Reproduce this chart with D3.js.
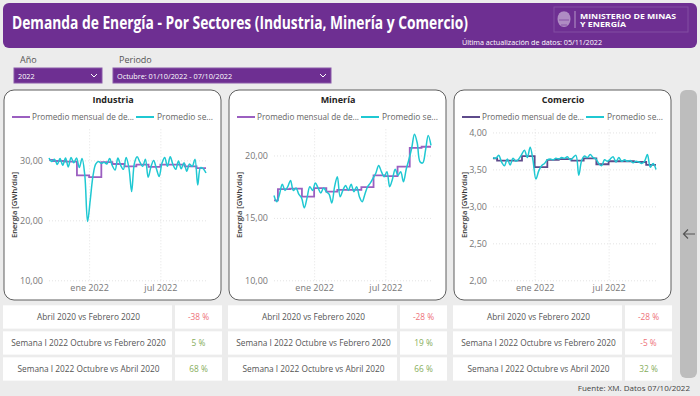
<!DOCTYPE html>
<html>
<head>
<meta charset="utf-8">
<script src="https://cdn.jsdelivr.net/npm/d3@7"></script>
<style>
  body { margin: 0; background: #ececec; }
  svg { display: block; font-family: "Open Sans", "Noto Sans", sans-serif; }
</style>
</head>
<body>
<svg id="chart" width="700" height="396"></svg>
<script>
// ---- datos ----
const sectores = ["Industria", "Minería", "Comercio"];

// inicio de cada serie semanal y de cada mes (el primero recortado al inicio de los datos)
const semanaInicio = "2021-09-21";
const meses = ["2021-09-21", "2021-10-01", "2021-11-01", "2021-12-01", "2022-01-01", "2022-02-01",
  "2022-03-01", "2022-04-01", "2022-05-01", "2022-06-01", "2022-07-01", "2022-08-01",
  "2022-09-01", "2022-10-01"];

const mensualIndustria = [30.1, 29.9, 29.8, 27.5, 27.2, 29.7, 29.4, 29.0, 29.3, 28.9, 29.3, 29.3, 29.0, 28.7];
const mensualMineria = [16.4, 17.3, 17.35, 16.7, 17.38, 17.1, 17.25, 17.25, 17.47, 18.4, 18.35, 19.1, 20.6, 20.7];
const mensualComercio = [3.65, 3.62, 3.62, 3.68, 3.53, 3.63, 3.64, 3.62, 3.65, 3.57, 3.61, 3.61, 3.60, 3.56];

const semanalIndustria = [30.4, 29.8, 30.2, 29.3, 30.3, 29.2, 30.4, 28.9, 30.5, 29.6,
  30.4, 28.8, 30.3, 27.5, 19.8, 23.5, 27.5, 29.4, 29.8, 29.5,
  29.7, 29.4, 30.3, 29.1, 28.4, 30.4, 29.2, 28.5, 30.5, 28.8,
  24.8, 29.5, 30.6, 29.7, 29.0, 30.2, 27.2, 28.9, 30.0, 28.6,
  27.3, 29.5, 30.5, 29.0, 30.6, 29.3, 28.5, 29.9, 28.6, 29.6,
  28.2, 29.4, 29.0, 30.2, 25.9, 28.8, 28.6, 27.9];
const semanalMineria = [16.8, 16.3, 16.9, 17.7, 17.2, 17.5, 18.0, 17.2, 17.4, 16.9,
  16.6, 15.8, 16.6, 17.5, 17.2, 17.8, 17.4, 17.0, 17.4, 17.1,
  16.9, 16.2, 17.5, 18.3, 16.7, 17.2, 17.6, 17.2, 17.7, 17.1,
  17.5, 16.7, 16.3, 16.9, 17.5, 17.8, 18.2, 18.6, 19.2, 18.7,
  18.3, 18.7, 17.5, 18.1, 18.9, 18.4, 18.7, 17.9, 18.9, 19.7,
  20.6, 21.7, 21.0, 19.5, 19.4, 20.4, 21.6, 20.8];
const semanalComercio = [3.66, 3.65, 3.69, 3.60, 3.55, 3.64, 3.56, 3.65, 3.61, 3.64,
  3.70, 3.76, 3.66, 3.80, 3.62, 3.37, 3.48, 3.55, 3.58, 3.63,
  3.64, 3.63, 3.65, 3.64, 3.66, 3.65, 3.67, 3.63, 3.66, 3.69,
  3.42, 3.62, 3.68, 3.66, 3.70, 3.66, 3.64, 3.58, 3.55, 3.63,
  3.61, 3.64, 3.67, 3.60, 3.66, 3.61, 3.63, 3.61, 3.62, 3.59,
  3.61, 3.60, 3.58, 3.61, 3.70, 3.53, 3.58, 3.50];

const yTicksIndustria = [10, 20, 30];
const yTicksMineria = [10, 15, 20];
const yTicksComercio = [2, 2.5, 3, 3.5, 4];
const xTicks = ["2022-01-01", "2022-07-01"];

const comparaciones = ["Abril 2020 vs Febrero 2020", "Semana I 2022 Octubre vs Febrero 2020", "Semana I 2022 Octubre vs Abril 2020"];
const variacionIndustria = [-38, 5, 68];
const variacionMineria = [-28, 19, 66];
const variacionComercio = [-28, -5, 32];

// ---- formatos ----
const numLocale = d3.formatLocale({ decimal: ",", thousands: ".", grouping: [3], currency: ["$", ""] });
const fmtY = numLocale.format(".2f");
const timeLocale = d3.timeFormatLocale({
  dateTime: "%x, %X", date: "%d/%m/%Y", time: "%-I:%M:%S %p", periods: ["AM", "PM"],
  days: ["domingo", "lunes", "martes", "miércoles", "jueves", "viernes", "sábado"],
  shortDays: ["dom", "lun", "mar", "mié", "jue", "vie", "sáb"],
  months: ["enero", "febrero", "marzo", "abril", "mayo", "junio", "julio", "agosto", "septiembre", "octubre", "noviembre", "diciembre"],
  shortMonths: ["ene", "feb", "mar", "abr", "may", "jun", "jul", "ago", "sep", "oct", "nov", "dic"]
});
const fmtX = timeLocale.utcFormat("%b %Y");
const parse = d3.utcParse("%Y-%m-%d");

const svg = d3.select("#chart");

// ---- encabezado ----
svg.append("rect").attr("x", 3).attr("y", 3).attr("width", 694).attr("height", 45)
  .attr("rx", 6).attr("fill", "#6e2f92");
svg.append("text").attr("x", 12).attr("y", 29)
  .attr("fill", "#fff").attr("font-size", 17).attr("font-weight", 700)
  .attr("textLength", 456).attr("lengthAdjust", "spacingAndGlyphs")
  .text("Demanda de Energía - Por Sectores (Industria, Minería y Comercio)");

// logo
const logo = svg.append("g");
logo.append("rect").attr("x", 554).attr("y", 7).attr("width", 134).attr("height", 25)
  .attr("fill", "none").attr("stroke", "rgba(255,255,255,0.15)");
logo.append("ellipse").attr("cx", 564).attr("cy", 19).attr("rx", 6.5).attr("ry", 8)
  .attr("fill", "rgba(255,255,255,0.45)");
logo.append("path").attr("d", "M558,13 Q564,9 570,13 M559,20 L569,20 M561,25 L567,25")
  .attr("stroke", "rgba(110,47,146,0.6)").attr("fill", "none");
logo.append("line").attr("x1", 575).attr("x2", 575).attr("y1", 11).attr("y2", 28)
  .attr("stroke", "rgba(255,255,255,0.5)");
logo.append("text").attr("x", 580).attr("y", 18.5).attr("fill", "#fff")
  .attr("font-size", 7.6).attr("font-weight", 700)
  .attr("textLength", 96).attr("lengthAdjust", "spacingAndGlyphs").text("MINISTERIO DE MINAS");
logo.append("text").attr("x", 580).attr("y", 27).attr("fill", "#fff")
  .attr("font-size", 7.6).attr("font-weight", 700)
  .attr("textLength", 46).attr("lengthAdjust", "spacingAndGlyphs").text("Y ENERGÍA");
svg.append("text").attr("x", 602).attr("y", 45).attr("text-anchor", "end")
  .attr("fill", "#fff").attr("font-size", 7.2).text("Última actualización de datos: 05/11/2022");

// ---- filtros ----
function dropdown(x, w, label, value) {
  svg.append("text").attr("x", x + 6).attr("y", 63).attr("fill", "#555")
    .attr("font-size", 9).text(label);
  svg.append("rect").attr("x", x).attr("y", 68).attr("width", w).attr("height", 15)
    .attr("fill", "#6e2f92").attr("stroke", "#8a5aa8");
  svg.append("text").attr("x", x + 4).attr("y", 79).attr("fill", "#fff")
    .attr("font-size", 7.3).text(value);
  const cx = x + w - 8;
  svg.append("path").attr("d", `M${cx - 3},74 L${cx},77 L${cx + 3},74`)
    .attr("stroke", "#fff").attr("fill", "none").attr("stroke-width", 1);
}
dropdown(14, 88, "Año", "2022");
dropdown(113, 218, "Periodo", "Octubre: 01/10/2022 - 07/10/2022");

// ---- paneles ----
const paneles = [
  { nombre: sectores[0], x: 4, left: 45, mensual: mensualIndustria, semanal: semanalIndustria,
    dominio: [10, 35.4], ticks: yTicksIndustria, morado: "#9b5fc0", variacion: variacionIndustria },
  { nombre: sectores[1], x: 229, left: 45, mensual: mensualMineria, semanal: semanalMineria,
    dominio: [10, 22.2], ticks: yTicksMineria, morado: "#9b5fc0", variacion: variacionMineria },
  { nombre: sectores[2], x: 454, left: 39, mensual: mensualComercio, semanal: semanalComercio,
    dominio: [2, 4.06], ticks: yTicksComercio, morado: "#5e4b8b", variacion: variacionComercio }
];

const inicio = parse(semanaInicio);
const cian = "#1fc8d2";

paneles.forEach(function (p) {
  const g = svg.append("g");
  const yTop = 128, yBottom = 280.3;

  g.append("rect").attr("x", p.x).attr("y", 90).attr("width", 217).attr("height", 210)
    .attr("rx", 10).attr("fill", "#fff").attr("stroke", "#5f5f5f").attr("stroke-width", 1);

  g.append("text").attr("x", p.x + 109).attr("y", 103).attr("text-anchor", "middle")
    .attr("font-size", 9).attr("font-weight", 700).attr("fill", "#252423").text(p.nombre);

  // leyenda
  g.append("line").attr("x1", p.x + 8).attr("x2", p.x + 26).attr("y1", 117).attr("y2", 117)
    .attr("stroke", p.morado).attr("stroke-width", 2);
  g.append("text").attr("x", p.x + 28).attr("y", 120.3).attr("font-size", 8.8).attr("fill", "#666")
    .attr("textLength", 102).attr("lengthAdjust", "spacingAndGlyphs")
    .text("Promedio mensual de de...");
  g.append("line").attr("x1", p.x + 132).attr("x2", p.x + 150).attr("y1", 117).attr("y2", 117)
    .attr("stroke", cian).attr("stroke-width", 2);
  g.append("text").attr("x", p.x + 153).attr("y", 120.3).attr("font-size", 8.8).attr("fill", "#666")
    .attr("textLength", 56).attr("lengthAdjust", "spacingAndGlyphs")
    .text("Promedio se...");

  // datos
  const semanal = p.semanal.map(function (v, i) {
    return { fecha: d3.utcDay.offset(inicio, 7 * i), valor: v };
  });
  const fin = semanal[semanal.length - 1].fecha;
  const mensual = p.mensual.map(function (v, i) { return { fecha: parse(meses[i]), valor: v }; });
  mensual.push({ fecha: fin, valor: p.mensual[p.mensual.length - 1] });

  const x = d3.scaleUtc().domain([inicio, fin]).range([p.x + p.left, p.x + 202]);
  const y = d3.scaleLinear().domain(p.dominio).range([yBottom, yTop]);

  // cuadrícula
  const gridY = g.append("g").attr("transform", "translate(" + (p.x + p.left) + ",0)")
    .call(d3.axisLeft(y).tickValues(p.ticks).tickSize(-(202 - p.left)).tickFormat(""));
  const gridX = g.append("g").attr("transform", "translate(0," + yBottom + ")")
    .call(d3.axisBottom(x).tickValues(xTicks.map(parse)).tickSize(-(yBottom - yTop)).tickFormat(""));
  [gridY, gridX].forEach(function (a) {
    a.select(".domain").remove();
    a.selectAll("line").attr("stroke", "#e3e3e3").attr("stroke-dasharray", "1,2");
  });

  // ejes
  const ay = g.append("g").attr("transform", "translate(" + (p.x + p.left) + ",0)")
    .call(d3.axisLeft(y).tickValues(p.ticks).tickSize(0).tickPadding(6).tickFormat(fmtY));
  const ax = g.append("g").attr("transform", "translate(0," + yBottom + ")")
    .call(d3.axisBottom(x).tickValues(xTicks.map(parse)).tickSize(0).tickPadding(4).tickFormat(fmtX));
  [ay, ax].forEach(function (a) {
    a.select(".domain").remove();
    a.selectAll("text").attr("fill", "#777").attr("font-size", 9)
      .attr("font-family", '"Open Sans", "Noto Sans", sans-serif');
  });

  g.append("text")
    .attr("transform", "translate(" + (p.x + 13) + ",205) rotate(-90)")
    .attr("text-anchor", "middle").attr("font-size", 7.6).attr("font-weight", 600).attr("fill", "#333")
    .text("Energía [GWh/día]");

  // líneas
  g.append("path").datum(mensual)
    .attr("fill", "none").attr("stroke", p.morado).attr("stroke-width", 1.8)
    .attr("d", d3.line().curve(d3.curveStepAfter)
      .x(function (d) { return x(d.fecha); }).y(function (d) { return y(d.valor); }));
  g.append("path").datum(semanal)
    .attr("fill", "none").attr("stroke", cian).attr("stroke-width", 1.5)
    .attr("d", d3.line().curve(d3.curveCatmullRom.alpha(0.5))
      .x(function (d) { return x(d.fecha); }).y(function (d) { return y(d.valor); }));

  // tabla de variaciones
  const filas = [305.3, 331.3, 357.3];
  comparaciones.forEach(function (c, i) {
    g.append("rect").attr("x", p.x - 1).attr("y", filas[i]).attr("width", 169).attr("height", 23.3)
      .attr("fill", "#fff");
    g.append("rect").attr("x", p.x + 171).attr("y", filas[i]).attr("width", 47).attr("height", 23.3)
      .attr("fill", "#fff");
    g.append("text").attr("x", p.x + 84.5).attr("y", filas[i] + 15).attr("text-anchor", "middle")
      .attr("font-size", 8.3).attr("fill", "#555").text(c);
    const v = p.variacion[i];
    g.append("text").attr("x", p.x + 194.5).attr("y", filas[i] + 15).attr("text-anchor", "middle")
      .attr("font-size", 8.3).attr("fill", v < 0 ? "#ee7179" : "#86ad5b").text(v + " %");
  });
});

// ---- barra lateral ----
svg.append("rect").attr("x", 680).attr("y", 90).attr("width", 17).attr("height", 288)
  .attr("rx", 6).attr("fill", "#bdbdbd");
svg.append("path").attr("d", "M683.5,234 L695,234 M688,229.5 L683.5,234 L688,238.5")
  .attr("stroke", "#555").attr("stroke-width", 1.2).attr("fill", "none");

// ---- fuente ----
svg.append("text").attr("x", 690).attr("y", 391).attr("text-anchor", "end")
  .attr("font-size", 8).attr("fill", "#444").text("Fuente: XM. Datos 07/10/2022");
</script>
</body>
</html>
